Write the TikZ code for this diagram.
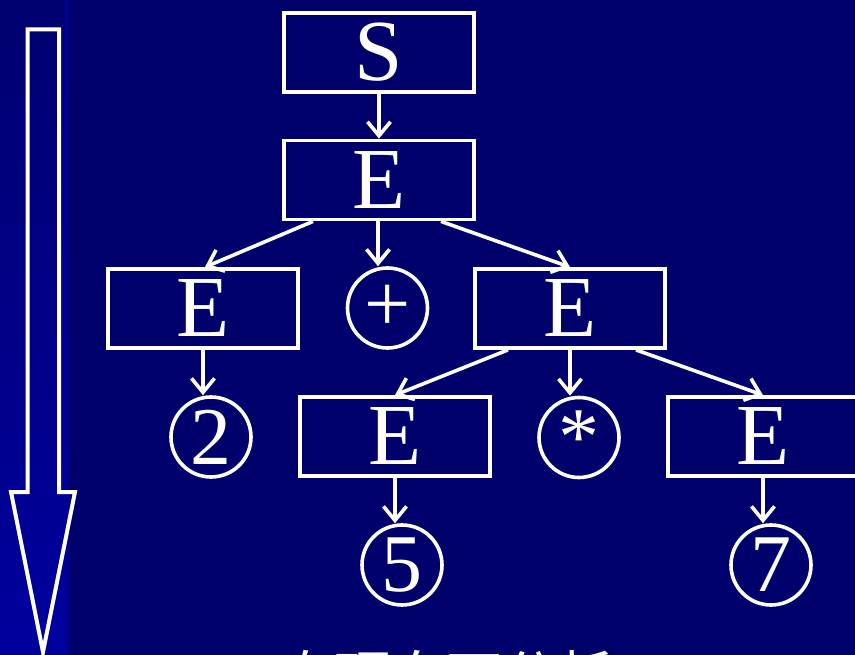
\documentclass[tikz,border=0pt]{standalone}
\usepackage{fontspec}
\setmainfont{Liberation Serif}
\newfontfamily\cjk{Noto Sans CJK SC}
\usetikzlibrary{arrows.meta}
\definecolor{bgblue}{RGB}{0,0,108}
\definecolor{striptop}{RGB}{0,0,112}
\definecolor{stripbot}{RGB}{0,0,158}
\definecolor{stripedge}{RGB}{0,0,150}
\tikzset{
  treebox/.style={draw=white, line width=3.8pt, minimum width=190pt, minimum height=79pt,
    inner sep=0pt, text=white, font=\fontsize{87}{87}\selectfont},
  leaf/.style={draw=white, circle, line width=3.6pt, minimum size=80pt, inner sep=0pt,
    text=white, font=\fontsize{82}{82}\selectfont},
  link/.style={draw=white, line width=3.6pt, -{Straight Barb[length=14pt,width=23pt,line width=3.6pt]}},
}
\begin{document}
\begin{tikzpicture}[x=1pt,y=-1pt]
\useasboundingbox (0,0) rectangle (855,655);
\clip (0,0) rectangle (855,655);
\fill[bgblue] (0,0) rectangle (855,655);
\fill[top color=striptop, bottom color=stripbot] (0,0) rectangle (66,655);
\fill[stripedge] (65,0) rectangle (69,655);
% big hollow arrow
\draw[white, line width=4pt, line join=miter]
  (27.5,29.5) -- (59,29.5) -- (59,492) -- (75,492) -- (43,652) -- (11,492) -- (27.5,492) -- cycle;
% tree nodes
\node[treebox] (S)   at (379,52.5) {S};
\node[treebox] (E1)  at (379,180) {E};
\node[treebox] (EL)  at (203,308.5) {E};
\node[leaf]    (plus) at (387.5,308) {+};
\node[treebox] (ER)  at (570,308.5) {E};
\node[leaf]    (two) at (211,437) {2};
\node[treebox] (EM)  at (395,436.5) {E};
\node[leaf]    (star) at (579,437.5) {*};
\node[treebox] (ERR) at (763,436.5) {E};
\node[leaf]    (five) at (402,565) {5};
\node[leaf]    (seven) at (771,565) {7};
% connectors
\draw[link] (S.south) -- (E1.north);
\draw[link] ([xshift=-66pt]E1.south) -- ([xshift=2pt]EL.north);
\draw[link] ([xshift=-1pt]E1.south) -- ([xshift=-1pt]E1.south |- plus.north);
\draw[link] ([xshift=62pt]E1.south) -- (ER.north);
\draw[link] ([xshift=-62pt]ER.south) -- (EM.north);
\draw[link] (ER.south) -- (ER.south |- star.north);
\draw[link] ([xshift=66pt]ER.south) -- (ERR.north);
\draw[link] (EL.south) -- (EL.south |- two.north);
\draw[link] (EM.south) -- (EM.south |- five.north);
\draw[link] (ERR.south) -- (ERR.south |- seven.north);
% caption (cut off at the bottom edge, as in the reference)
\node[anchor=base west, inner sep=0pt, text=white, font=\cjk\fontsize{56}{56}\selectfont] (cap) at (278,697) {自顶向下分析};
\end{tikzpicture}
\end{document}
